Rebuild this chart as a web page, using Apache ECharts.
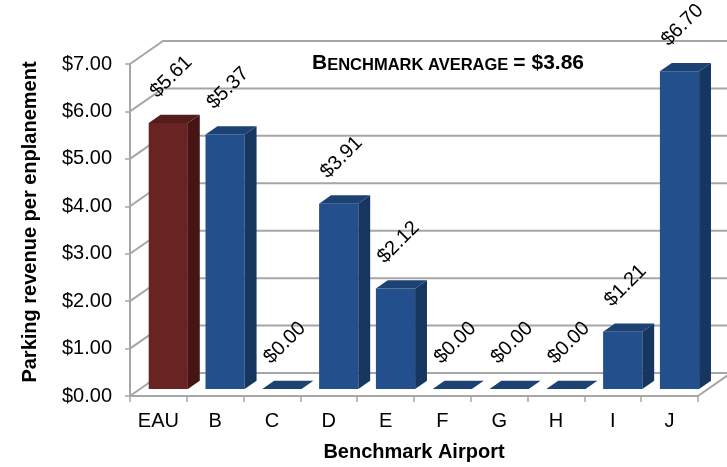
<!DOCTYPE html>
<html>
<head>
<meta charset="utf-8">
<script src="https://cdn.jsdelivr.net/npm/echarts@6/dist/echarts.min.js"></script>
<style>
  html, body { margin: 0; padding: 0; background: #fff; }
  #chart { width: 727px; height: 467px; }
</style>
</head>
<body>
<div id="chart"></div>
<script>
// Parking revenue per enplanement by benchmark airport
const airports = ['EAU', 'B', 'C', 'D', 'E', 'F', 'G', 'H', 'I', 'J'];
const revenue = [5.61, 5.37, 0.00, 3.91, 2.12, 0.00, 0.00, 0.00, 1.21, 6.70];
const yTicks = [0, 1, 2, 3, 4, 5, 6, 7];
const benchmarkAverage = 3.86;
const highlightAirport = 'EAU';

// oblique projection of the chart box: offset from the front plane to the back wall
const DEPTH_DX = 33;
const DEPTH_DY = -23;
const BAR_FRONT = 0.30;   // depth fraction of a column's front face
const BAR_BACK = 0.66;    // depth fraction of a column's back face
const BAR_WIDTH = 0.69;   // share of the category band
const GRID_COLOR = '#a6a6a6';
const FONT = '"Liberation Sans", Arial, sans-serif';

const palette = {
  blue: { front: '#234f8c', side: '#17365f', top: '#1c4173' },
  red:  { front: '#6a2323', side: '#451515', top: '#561c1c' }
};

function money(v) { return '$' + v.toFixed(2); }

// side wall + back wall gridlines, one per tick value
function renderWalls(params, api) {
  const v = api.value(1);
  const cs = params.coordSys;
  const y = api.coord([0, v])[1];
  const x0 = cs.x, x1 = cs.x + cs.width;
  const children = [{
    type: 'polyline',
    shape: { points: [[x0, y], [x0 + DEPTH_DX, y + DEPTH_DY], [x1 + DEPTH_DX, y + DEPTH_DY]] },
    style: { stroke: GRID_COLOR, lineWidth: 2, fill: null }
  }];
  if (v === 0) {
    children.push({
      type: 'line',
      shape: { x1: x1, y1: y, x2: x1 + DEPTH_DX, y2: y + DEPTH_DY },
      style: { stroke: GRID_COLOR, lineWidth: 2 }
    });
  }
  return { type: 'group', children: children };
}

// 3-D column: front, side and top faces plus a slanted value label
function renderColumn(params, api) {
  const idx = api.value(0);
  const v = api.value(1);
  const base = api.coord([idx, 0]);
  const top = api.coord([idx, v]);
  const band = api.size([1, 0])[0];
  const w = band * BAR_WIDTH;
  const xl = base[0] - w / 2, xr = base[0] + w / 2;
  const yb = base[1], yt = top[1];
  const p = (x, y, d) => [x + d * DEPTH_DX, y + d * DEPTH_DY];
  const c = airports[idx] === highlightAirport ? palette.red : palette.blue;

  const children = [];
  if (v > 0) {
    children.push({
      type: 'polygon',
      shape: { points: [p(xl, yb, BAR_FRONT), p(xr, yb, BAR_FRONT), p(xr, yt, BAR_FRONT), p(xl, yt, BAR_FRONT)] },
      style: { fill: c.front }
    });
    children.push({
      type: 'polygon',
      shape: { points: [p(xr, yb, BAR_FRONT), p(xr, yb, BAR_BACK), p(xr, yt, BAR_BACK), p(xr, yt, BAR_FRONT)] },
      style: { fill: c.side }
    });
  }
  children.push({
    type: 'polygon',
    shape: { points: [p(xl, yt, BAR_FRONT), p(xr, yt, BAR_FRONT), p(xr, yt, BAR_BACK), p(xl, yt, BAR_BACK)] },
    style: { fill: c.top }
  });

  const mid = (BAR_FRONT + BAR_BACK) / 2;
  const cx = base[0] + mid * DEPTH_DX;
  const cy = yt + mid * DEPTH_DY;
  children.push({
    type: 'text',
    x: cx - 3,
    y: cy - 42,
    rotation: Math.PI / 4,
    z2: 100,
    style: {
      text: money(v),
      fill: '#000',
      font: '20px ' + FONT,
      align: 'center',
      verticalAlign: 'middle'
    }
  });
  return { type: 'group', children: children };
}

const chart = echarts.init(document.getElementById('chart'));
chart.setOption({
  animation: false,
  backgroundColor: '#fff',
  title: {
    text: '{a|B}{b|ENCHMARK AVERAGE} {a|= ' + money(benchmarkAverage) + '}',
    left: 443,
    top: 46,
    textAlign: 'center',
    textStyle: {
      rich: {
        a: { fontSize: 21, lineHeight: 23, fontWeight: 'bold', fontFamily: FONT, color: '#000', verticalAlign: 'bottom' },
        b: { fontSize: 16.5, lineHeight: 19, fontWeight: 'bold', fontFamily: FONT, color: '#000', verticalAlign: 'bottom' }
      }
    }
  },
  grid: {
    left: 130, right: 29, top: 64, bottom: 71,
    containLabel: false,
    outerBoundsMode: 'none'
  },
  xAxis: {
    type: 'category',
    data: airports,
    boundaryGap: true,
    axisLine: { show: true, lineStyle: { color: GRID_COLOR, width: 2 } },
    axisTick: { show: true, length: 6, lineStyle: { color: GRID_COLOR, width: 1.5 } },
    axisLabel: { color: '#000', fontSize: 20, fontFamily: FONT, margin: 15 },
    splitLine: { show: false },
    name: 'Benchmark Airport',
    nameLocation: 'middle',
    nameGap: 46,
    nameTextStyle: { color: '#000', fontSize: 20, fontWeight: 'bold', fontFamily: FONT }
  },
  yAxis: {
    type: 'value',
    min: 0,
    max: 7,
    interval: 1,
    axisLine: { show: true, lineStyle: { color: GRID_COLOR, width: 2 } },
    axisTick: { show: true, length: 5, lineStyle: { color: GRID_COLOR, width: 1.5 } },
    axisLabel: { color: '#000', fontSize: 20, fontFamily: FONT, margin: 18, formatter: money },
    splitLine: { show: false },
    name: 'Parking revenue per enplanement',
    nameLocation: 'middle',
    nameGap: 90,
    nameTextStyle: { color: '#000', fontSize: 20, fontWeight: 'bold', fontFamily: FONT, padding: [0, 0, 0, 16] }
  },
  series: [
    {
      type: 'custom',
      z: 1,
      silent: true,
      renderItem: renderWalls,
      data: yTicks.map(v => [0, v])
    },
    {
      type: 'custom',
      z: 3,
      renderItem: renderColumn,
      data: revenue.map((v, i) => [i, v])
    }
  ]
});
</script>
</body>
</html>
